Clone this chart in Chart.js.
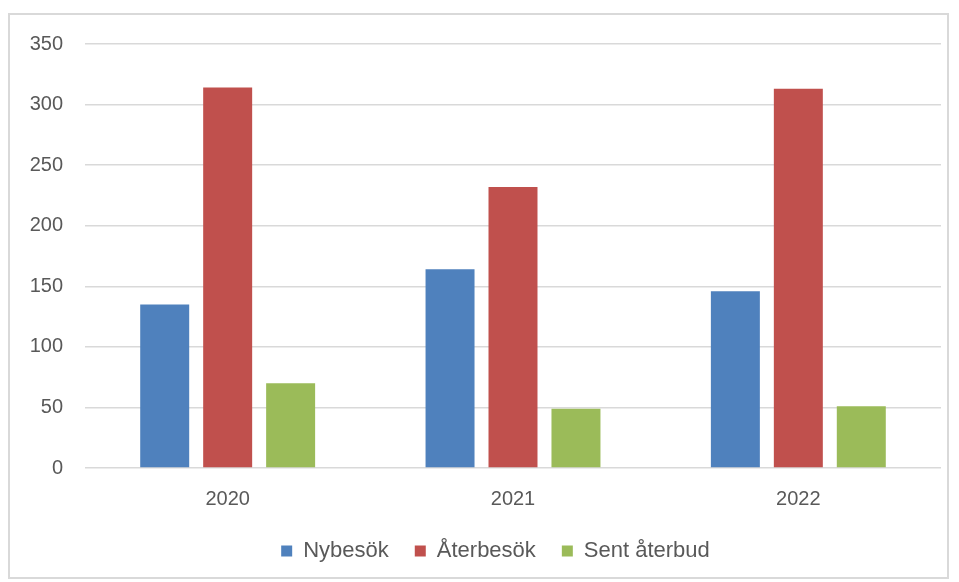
<!DOCTYPE html>
<html>
<head>
<meta charset="utf-8">
<script src="https://cdn.jsdelivr.net/npm/chart.js@4/dist/chart.umd.min.js"></script>
<style>
  html, body { margin: 0; padding: 0; background: #fff; }
  #wrap { position: relative; width: 959px; height: 582px; }
  #frame {
    position: absolute; left: 8px; top: 13px; width: 941px; height: 566px;
    border: 2px solid #d9d9d9; box-sizing: border-box;
  }
  canvas { position: absolute; left: 0; top: 0; }
</style>
</head>
<body>
<div id="wrap">
  <div id="frame"></div>
  <canvas id="chart" width="959" height="582"></canvas>
</div>
<script>
// data
const years = ["2020", "2021", "2022"];
const nybesok = [135, 164, 146];
const aterbesok = [314, 232, 313];
const sentAterbud = [70, 49, 51];
const yTicks = [0, 50, 100, 150, 200, 250, 300, 350];

const textColor = "#595959";
const gridColor = "#d9d9d9";
const fontFamily = '"Liberation Sans", Arial, sans-serif';

// legend sits a bit right of the canvas centre in the original
const legendNudge = {
  id: "legendNudge",
  afterLayout(chart) {
    if (chart.legend) {
      chart.legend.left += 25;
      chart.legend.right += 25;
    }
  },
};

const ctx = document.getElementById("chart");

new Chart(ctx, {
  type: "bar",
  data: {
    labels: years,
    datasets: [
      { label: "Nybesök", data: nybesok, backgroundColor: "#4f81bd" },
      { label: "Återbesök", data: aterbesok, backgroundColor: "#c0504d" },
      { label: "Sent återbud", data: sentAterbud, backgroundColor: "#9bbb59" },
    ],
  },
  plugins: [legendNudge],
  options: {
    responsive: false,
    animation: false,
    datasets: {
      bar: { categoryPercentage: 0.662, barPercentage: 0.778 },
    },
    layout: { padding: { top: 44, right: 18, bottom: 10, left: 0 } },
    scales: {
      x: {
        afterFit: axis => {
          axis.height = 46;
        },
        grid: { display: false },
        border: { display: false },
        ticks: { color: textColor, font: { family: fontFamily, size: 20 }, padding: 11 },
      },
      y: {
        min: 0,
        max: 350,
        afterBuildTicks: axis => {
          axis.ticks = yTicks.map(v => ({ value: v }));
        },
        afterFit: axis => {
          axis.width = 85;
        },
        grid: { color: gridColor, lineWidth: 1.5, drawTicks: false },
        border: { display: false },
        ticks: { color: textColor, font: { family: fontFamily, size: 20 }, padding: 22 },
      },
    },
    plugins: {
      tooltip: { enabled: false },
      legend: {
        position: "bottom",
        labels: {
          color: textColor,
          font: { family: fontFamily, size: 22 },
          boxWidth: 11,
          boxHeight: 11,
          padding: 26,
        },
      },
    },
  },
});
</script>
</body>
</html>
